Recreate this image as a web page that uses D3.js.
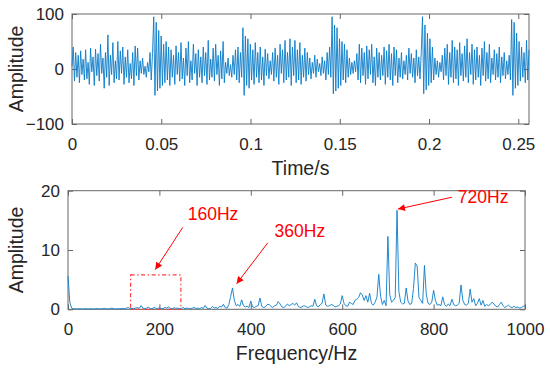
<!DOCTYPE html>
<html>
<head>
<meta charset="utf-8">
<script src="https://cdn.jsdelivr.net/npm/d3@7"></script>
<style>
  body { margin: 0; background: #fff; }
  text { font-family: "Liberation Sans", Arial, sans-serif; fill: #262626; }
</style>
</head>
<body>
<script>
const width = 550;
const height = 375;

const timeSpan = 0.256;
const timeSignal = [
  5, 40, -22, 30, -15, 25, -25, 33, -10, 18,
  -20, 35, -18, 12, -28, 38, -5, 22, -30, 36,
  -12, 28, -22, 45, -8, 20, -35, 30, -15, 62,
  -30, 25, -10, 48, -25, 15, -18, 50, -20, 33,
  -8, 40, -28, 22, -15, 35, -25, 10, -18, 30,
  -30, 42, -12, 38, -20, 15, -8, 20, -10, 5,
  -15, 12, -5, 30, -20, 28,
  95, -48, 85, -40, 70, -35, 60, -30, 45, -25,
  50, -20, 40, -30, 35, -15, 25, -28, 42, -10, 30, -22, 48, -18,
  20, -30, 38, -12, 50, -25, 15, -20, 45, -8, 28, -30, 35, -15, 22, -25,
  40, -12, 30, -28, 52, -20, 18, -15, 38, -22, 45, -10, 25, -30, 33, -18,
  50, -25, 12, -8, 20, -12, 8, -15, 25,
  -10, 35, -20, 40, -25, 30, -15,
  75, -48, 60, -30, 55, -35, 45, -20, 35, -28,
  48, -15, 30, -25, 40, -20, 22, -30, 36, -12, 28, -18, 15, -10,
  30, -22, 38, -15, 25, -28, 45, -8, 35, -25, 52, -20, 30, -15,
  55, -30, 40, -12, 52, -25, 35, -20, 48, -28, 25, -15, 38, -22, 30, -10,
  20, -18, 12, -8, 25, -15, 18, -5, 10, -12, 22, -8, 15, -20, 30, -10, 40, -15,
  95, -45, 80, -40, 75, -35, 55, -30, 50, -20,
  45, -25, 35, -15, 20, -10, 12, -8, 15, -5, 28, -20, 45, -25, 38, -12, 30, -28,
  42, -18, 35, -10, 45, -25, 22, -30, 38, -15, 30, -20, 25, -12, 40, -28, 33, -15,
  45, -20, 28, -30, 40, -12, 35, -25, 20, -15, 30, -18, 15, -10,
  25, -20, 38, -8, 28, -15, 20, -25, 35, -12, 22, -18, 30,
  95, -45, 80, -38, 65, -30, 55, -25, 40, -20,
  20, -10, 15, -15, 12, -5, 25, -20, 38, -12, 45, -28, 30, -15, 52, -25,
  40, -18, 35, -30, 48, -12, 28, -22, 42, -15, 55, -25, 30, -10, 45, -28,
  35, -20, 40, -15, 25, -30, 38, -12, 50, -22, 30, -18, 45, -25, 20, -10,
  35, -20, 28, -15, 40, -25, 22, -12, 30, -18, 15, -10, 25, -20,
  90, -48, 85, -35, 65, -30, 50, -22, 40, -15,
  30, -25, 52, -20, 35
];
const timeTicks = [0, 0.05, 0.1, 0.15, 0.2, 0.25];
const ampTicks = [-100, 0, 100];

// amplitude spectrum, one value every 4 Hz from 0 to 1000 Hz
const freqStep = 4;
const spectrum = [
  5.6, 1.2, 0.2, 0.1, 0.1, 0.05, 0.1, 0.08, 0.05, 0.1,
  0.1, 0.05, 0.08, 0.1, 0.05, 0.1, 0.12, 0.05, 0.08, 0.1,
  0.15, 0.1, 0.05, 0.1, 0.2, 0.1, 0.05, 0.1, 0.08, 0.1,
  0.15, 0.1, 0.2, 0.3, 0.1, 0.15, 0.1, 0.2, 0.3, 0.15,
  0.65, 0.2, 0.1, 0.2, 0.35, 0.15, 0.1, 0.3, 0.2, 0.1,
  0.25, 0.15, 0.1, 0.3, 0.2, 0.4, 0.15, 0.1, 0.25, 0.15,
  0.2, 0.1, 0.15, 0.3, 0.1, 0.2, 0.15, 0.1, 0.2, 0.3,
  0.15, 0.2, 0.1, 0.3, 0.15, 0.65, 0.2, 0.1, 0.15, 0.5,
  0.2, 0.3, 0.15, 0.5, 0.4, 0.85, 0.3, 0.2, 0.8, 2.2,
  3.6, 1.5, 0.6, 0.8, 0.5, 1.6, 0.6, 0.4, 0.5, 0.3,
  1.4, 0.4, 0.3, 0.5, 0.6, 1.9, 0.5, 0.3, 0.4, 0.8,
  0.8, 0.5, 0.3, 0.6, 0.7, 1.3, 0.9, 0.4, 0.3, 0.5,
  0.9, 0.6, 0.8, 1.0, 0.7, 1.1, 0.5, 0.3, 0.4, 0.6,
  0.5, 0.3, 0.4, 0.6, 0.5, 1.7, 0.6, 0.4, 0.8, 1.0,
  2.6, 0.7, 0.5, 0.6, 0.8, 0.7, 0.4, 0.5, 0.6, 0.9,
  2.3, 1.0, 0.6, 0.5, 1.2, 1.0, 0.8, 1.5, 1.7, 2.0,
  2.8, 2.4, 1.5, 2.3, 1.2, 2.7, 1.0, 0.7, 1.2, 2.0,
  5.9, 2.2, 0.8, 1.5, 0.6, 12.3, 2.5, 1.2, 1.5, 2.0,
  16.7, 3.0, 1.2, 0.9, 1.0, 3.6, 1.4, 0.8, 1.0, 3.5,
  7.8, 7.3, 2.0, 1.5, 1.0, 7.4, 2.5, 1.0, 0.8, 1.2,
  3.2, 1.5, 0.7, 0.8, 0.6, 2.1, 0.8, 0.5, 0.9, 0.6,
  1.7, 0.8, 0.6, 0.7, 1.0, 4.1, 1.5, 0.8, 0.7, 1.0,
  3.4, 1.2, 1.8, 0.6, 1.0, 1.8, 0.7, 1.5, 0.5, 0.8,
  0.6, 0.8, 1.2, 0.9, 0.5, 0.4, 0.8, 1.2, 0.6, 0.3,
  0.5, 0.7, 0.4, 0.3, 0.5, 0.3, 0.4, 0.2, 0.3, 0.5,
  0.6
];
const freqTicks = [0, 200, 400, 600, 800, 1000];
const specTicks = [0, 10, 20];

// red annotations, in data units of the spectrum plot
const noteLabels = ['160Hz', '360Hz', '720Hz'];
const noteText = [[262, 15.0], [452, 12.2], [853, 17.9]];
const noteFrom = [[251, 13.8], [437, 11.2], [840, 18.9]];
const noteTo = [[191, 6.7], [369, 4.3], [722, 16.9]];
const markBox = [137, 247, 5.8];

const blue = '#0a7cc8';
const axisColor = '#666';

const svg = d3.select('body').append('svg')
  .attr('width', width)
  .attr('height', height);

svg.append('defs').append('marker')
    .attr('id', 'head')
    .attr('viewBox', '0 0 10 10')
    .attr('refX', 10).attr('refY', 5)
    .attr('markerWidth', 9).attr('markerHeight', 7)
    .attr('markerUnits', 'userSpaceOnUse')
    .attr('orient', 'auto')
  .append('path')
    .attr('d', 'M0,0L10,5L0,10z')
    .attr('fill', 'red');

function panel(box, xDomain, yDomain, xTicks, yTicks, xFmt, xLabel) {
  const x = d3.scaleLinear().domain(xDomain).range([box.l, box.r]);
  const y = d3.scaleLinear().domain(yDomain).range([box.b, box.t]);
  const g = svg.append('g');

  const style = sel => {
    sel.selectAll('.domain').remove();
    sel.selectAll('line').attr('stroke', axisColor);
    sel.selectAll('text').attr('font-size', 17).attr('fill', '#262626');
  };

  g.append('g').attr('transform', `translate(0,${box.b})`)
    .call(d3.axisBottom(x).tickValues(xTicks).tickFormat(xFmt).tickSize(-5).tickPadding(14))
    .call(style);
  g.append('g').attr('transform', `translate(0,${box.t})`)
    .call(d3.axisTop(x).tickValues(xTicks).tickFormat('').tickSize(-5))
    .call(style);
  g.append('g').attr('transform', `translate(${box.l},0)`)
    .call(d3.axisLeft(y).tickValues(yTicks).tickSize(-5).tickPadding(8))
    .call(style);
  g.append('g').attr('transform', `translate(${box.r},0)`)
    .call(d3.axisRight(y).tickValues(yTicks).tickFormat('').tickSize(-5))
    .call(style);

  g.append('rect')
    .attr('x', box.l).attr('y', box.t)
    .attr('width', box.r - box.l).attr('height', box.b - box.t)
    .attr('fill', 'none').attr('stroke', axisColor).attr('stroke-width', 1);

  g.append('text')
    .attr('x', (box.l + box.r) / 2).attr('y', box.b + 51)
    .attr('text-anchor', 'middle').attr('font-size', 19.5)
    .text(xLabel);
  g.append('text')
    .attr('transform', `translate(23,${(box.t + box.b) / 2}) rotate(-90)`)
    .attr('text-anchor', 'middle').attr('font-size', 19.5)
    .text('Amplitude');

  return {x, y, g};
}

// upper panel: time signal
const timePanel = panel({l: 72, r: 529, t: 14, b: 124}, [0, timeSpan], [-100, 100],
  timeTicks, ampTicks, d => d === 0 ? '0' : String(d), 'Time/s');
const dt = timeSpan / (timeSignal.length - 1);
timePanel.g.append('path')
  .datum(timeSignal)
  .attr('fill', 'none')
  .attr('stroke', blue)
  .attr('stroke-width', 0.9)
  .attr('d', d3.line().x((d, i) => timePanel.x(i * dt)).y(d => timePanel.y(d)));

// lower panel: spectrum
const specPanel = panel({l: 68, r: 525, t: 190.7, b: 309.3}, [0, 1000], [0, 20],
  freqTicks, specTicks, d3.format('d'), 'Frequency/Hz');
specPanel.g.append('path')
  .datum(spectrum)
  .attr('fill', 'none')
  .attr('stroke', blue)
  .attr('stroke-width', 0.9)
  .attr('d', d3.line().x((d, i) => specPanel.x(i * freqStep)).y(d => specPanel.y(d)));

// dash-dot box around the 160 Hz region
specPanel.g.append('rect')
  .attr('x', specPanel.x(markBox[0])).attr('y', specPanel.y(markBox[2]))
  .attr('width', specPanel.x(markBox[1]) - specPanel.x(markBox[0]))
  .attr('height', specPanel.y(0) - specPanel.y(markBox[2]))
  .attr('fill', 'none')
  .attr('stroke', '#ff3c3c')
  .attr('stroke-width', 1.2)
  .attr('stroke-dasharray', '4,2.5,1.5,2.5');

noteLabels.forEach((lab, i) => {
  specPanel.g.append('line')
    .attr('x1', specPanel.x(noteFrom[i][0])).attr('y1', specPanel.y(noteFrom[i][1]))
    .attr('x2', specPanel.x(noteTo[i][0])).attr('y2', specPanel.y(noteTo[i][1]))
    .attr('stroke', 'red').attr('stroke-width', 1)
    .attr('marker-end', 'url(#head)');
  specPanel.g.append('text')
    .attr('x', specPanel.x(noteText[i][0])).attr('y', specPanel.y(noteText[i][1]))
    .attr('font-size', 17.5)
    .style('fill', 'red')
    .text(lab);
});
</script>
</body>
</html>
